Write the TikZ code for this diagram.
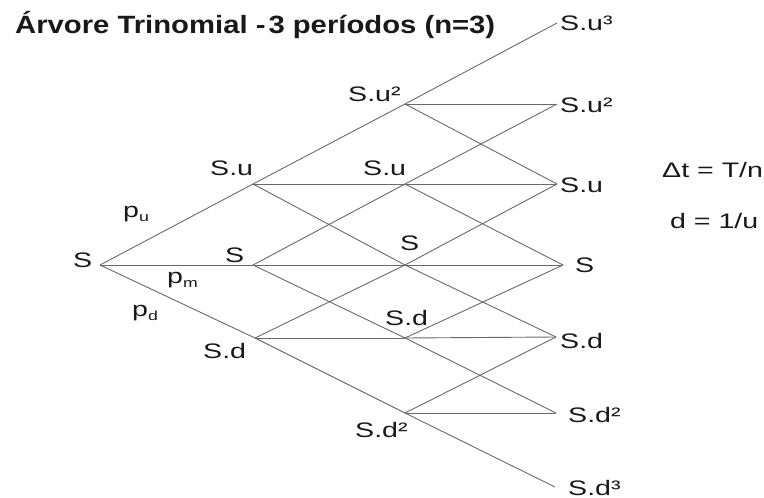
\documentclass[tikz,border=0pt]{standalone}
\usepackage{fontspec}
\setmainfont{Liberation Sans}
\newfontfamily\labf[FakeStretch=1.36]{Liberation Sans}
\newfontfamily\titf[FakeStretch=1.17]{Liberation Sans}
\definecolor{ink}{RGB}{25,25,25}
\definecolor{edgec}{RGB}{105,105,105}
\begin{document}
\begin{tikzpicture}[x=1pt,y=-1pt,
  lab/.style={font=\labf\fontsize{21}{21}\selectfont, text=ink, inner sep=0pt, anchor=base west},
  ttl/.style={font=\titf\bfseries\fontsize{25}{25}\selectfont, text=ink, inner sep=0pt, anchor=base west},
  br/.style={draw=edgec, line width=0.9pt}]
\useasboundingbox (0,0) rectangle (764,498);
% lattice points
\coordinate (n0) at (100,265);
\coordinate (a1u) at (253,184);
\coordinate (a1m) at (253,265);
\coordinate (a1d) at (255,338);
\coordinate (b2uu) at (405,104);
\coordinate (b2u) at (405,184);
\coordinate (b2m) at (405,265);
\coordinate (b2d) at (405,338);
\coordinate (b2dd) at (405,413);
\coordinate (c3uuu) at (557,23);
\coordinate (c3uu) at (557,104);
\coordinate (c3u) at (557,184);
\coordinate (c3m) at (563,265);
\coordinate (c3d) at (556,337);
\coordinate (c3dd) at (556,413);
\coordinate (c3ddd) at (555,487);
% branches
\foreach \a/\b in {n0/a1u, n0/a1m, n0/a1d,
  a1u/b2uu, a1u/b2u, a1u/b2m, a1m/b2u, a1m/b2m, a1m/b2d, a1d/b2m, a1d/b2d, a1d/b2dd,
  b2uu/c3uuu, b2uu/c3uu, b2uu/c3u, b2u/c3uu, b2u/c3u, b2u/c3m, b2m/c3u, b2m/c3m, b2m/c3d,
  b2d/c3m, b2d/c3d, b2d/c3dd, b2dd/c3d, b2dd/c3dd, b2dd/c3ddd}
  \draw[br] (\a) -- (\b);
% title
\node[ttl] (title) at (15,33) {Árvore Trinomial -\kern0.12em3 períodos (n=3)};
% labels
\node[lab] (l0) at (73,267) {S};
\node[lab] (pu) at (123,217) {p\raisebox{-4pt}{\fontsize{13}{13}\selectfont u}};
\node[lab] (pm) at (167,283) {p\raisebox{-4pt}{\fontsize{13}{13}\selectfont m}};
\node[lab] (pd) at (132,316) {p\raisebox{-4pt}{\fontsize{13}{13}\selectfont d}};
\node[lab] (l1u) at (210,175) {S.u};
\node[lab] (l1m) at (225,262) {S};
\node[lab] (l1d) at (203,358) {S.d};
\node[lab] (l2uu) at (348,101) {S.u²};
\node[lab] (l2u) at (363,175) {S.u};
\node[lab] (l2m) at (400,250) {S};
\node[lab] (l2d) at (385,325) {S.d};
\node[lab] (l2dd) at (355,437) {S.d²};
\node[lab] (l3uuu) at (560,30) {S.u³};
\node[lab] (l3uu) at (560,112) {S.u²};
\node[lab] (l3u) at (560,192) {S.u};
\node[lab] (l3m) at (575,272) {S};
\node[lab] (l3d) at (560,348) {S.d};
\node[lab] (l3dd) at (568,422) {S.d²};
\node[lab] (l3ddd) at (568,495) {S.d³};
\node[lab] (dt) at (662,177) {Δt = T/n};
\node[lab] (dd) at (670,228) {d = 1/u};
\end{tikzpicture}
\end{document}
